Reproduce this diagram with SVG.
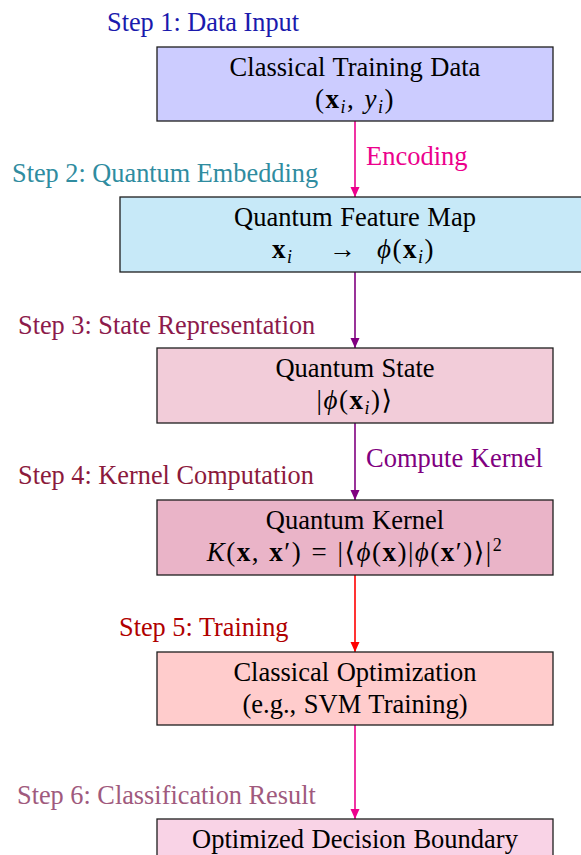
<svg xmlns="http://www.w3.org/2000/svg" width="581" height="855" viewBox="0 0 581 855">
  <style>
    text { font-family: "Liberation Serif", "DejaVu Serif", serif; font-size: 26.5px; word-spacing: 1px; }
    .box text { fill: #000; text-anchor: middle; }
    .box rect { stroke: #1e1e1e; stroke-width: 1.3; }
    .step { text-anchor: start; font-size: 26.3px; word-spacing: 0; }
    .m { font-size: 27px; letter-spacing: 1.5px; }
    .b { font-weight: bold; }
    .i { font-style: italic; }
    .sub { font-size: 18px; font-style: italic; }
    .sup { font-size: 18px; }
    .edge { fill: none; stroke-width: 1.6; }
  </style>
  <defs>
    <marker id="head-magenta" viewBox="0 0 10 10" refX="10" refY="5" markerWidth="10" markerHeight="10" markerUnits="userSpaceOnUse" orient="auto">
      <path d="M0,0.5 L10,5 L0,9.5 Z" fill="#ec008c"/>
    </marker>
    <marker id="head-purple" viewBox="0 0 10 10" refX="10" refY="5" markerWidth="10" markerHeight="10" markerUnits="userSpaceOnUse" orient="auto">
      <path d="M0,0.5 L10,5 L0,9.5 Z" fill="#800080"/>
    </marker>
    <marker id="head-red" viewBox="0 0 10 10" refX="10" refY="5" markerWidth="10" markerHeight="10" markerUnits="userSpaceOnUse" orient="auto">
      <path d="M0,0.5 L10,5 L0,9.5 Z" fill="#ff0000"/>
    </marker>
  </defs>

  <rect width="581" height="855" fill="#ffffff"/>

  <!-- connectors -->
  <g id="connectors">
    <line class="edge" x1="355" y1="121" x2="355" y2="197" stroke="#ec008c" marker-end="url(#head-magenta)"/>
    <line class="edge" x1="355" y1="272" x2="355" y2="348" stroke="#800080" marker-end="url(#head-purple)"/>
    <line class="edge" x1="355" y1="423" x2="355" y2="500" stroke="#800080" marker-end="url(#head-purple)"/>
    <line class="edge" x1="355" y1="575" x2="355" y2="652" stroke="#ff0000" marker-end="url(#head-red)"/>
    <line class="edge" x1="355" y1="725" x2="355" y2="819" stroke="#ec008c" marker-end="url(#head-magenta)"/>
    <text x="366" y="165" fill="#ec008c">Encoding</text>
    <text x="366" y="467" fill="#800080">Compute Kernel</text>
  </g>

  <!-- step labels -->
  <g id="steps">
    <text class="step" x="107" y="31" fill="#1a1aad">Step 1: Data Input</text>
    <text class="step" x="12" y="182" fill="#2f8ca0">Step 2: Quantum Embedding</text>
    <text class="step" x="18" y="334" fill="#8c1a4b">Step 3: State Representation</text>
    <text class="step" x="18" y="484" fill="#8b1a3c">Step 4: Kernel Computation</text>
    <text class="step" x="119" y="636" fill="#b00000">Step 5: Training</text>
    <text class="step" x="17" y="804" fill="#a05a7d">Step 6: Classification Result</text>
  </g>

  <!-- nodes -->
  <g id="data" class="box">
    <rect x="157" y="47" width="396" height="74" fill="#ccccff"/>
    <text x="355" y="76">Classical Training Data</text>
    <text class="m" x="355" y="108">(<tspan class="b">x</tspan><tspan class="sub" dy="5">i</tspan><tspan dy="-5">, </tspan><tspan class="i">y</tspan><tspan class="sub" dy="5">i</tspan><tspan dy="-5">)</tspan></text>
  </g>

  <g id="featuremap" class="box">
    <rect x="120" y="197" width="470" height="75" fill="#c7e9f8"/>
    <text x="355" y="226">Quantum Feature Map</text>
    <text class="m" x="272" y="258" style="text-anchor:start"><tspan class="b">x</tspan><tspan class="sub" dy="5">i</tspan></text>
    <text class="m" x="343" y="258">→</text>
    <text class="m" x="377" y="258" style="text-anchor:start"><tspan class="i">ϕ</tspan>(<tspan class="b">x</tspan><tspan class="sub" dy="5">i</tspan><tspan dy="-5">)</tspan></text>
  </g>

  <g id="state" class="box">
    <rect x="157" y="348" width="396" height="75" fill="#f2ccd9"/>
    <text x="355" y="377">Quantum State</text>
    <text class="m" x="355" y="409">|<tspan class="i">ϕ</tspan>(<tspan class="b">x</tspan><tspan class="sub" dy="5">i</tspan><tspan dy="-5">)⟩</tspan></text>
  </g>

  <g id="kernel" class="box">
    <rect x="157" y="500" width="396" height="75" fill="#eab4c8"/>
    <text x="355" y="529">Quantum Kernel</text>
    <text class="m" x="355" y="561"><tspan class="i">K</tspan>(<tspan class="b">x</tspan>, <tspan class="b">x</tspan>′) = |⟨<tspan class="i">ϕ</tspan>(<tspan class="b">x</tspan>)|<tspan class="i">ϕ</tspan>(<tspan class="b">x</tspan>′)⟩|<tspan class="sup" dy="-10">2</tspan></text>
  </g>

  <g id="optimization" class="box">
    <rect x="157" y="652" width="396" height="73" fill="#ffcccc"/>
    <text x="355" y="681">Classical Optimization</text>
    <text x="355" y="713">(e.g., SVM Training)</text>
  </g>

  <g id="boundary" class="box">
    <rect x="157" y="819" width="396" height="60" fill="#f9d3e6"/>
    <text x="355" y="848">Optimized Decision Boundary</text>
  </g>
</svg>
